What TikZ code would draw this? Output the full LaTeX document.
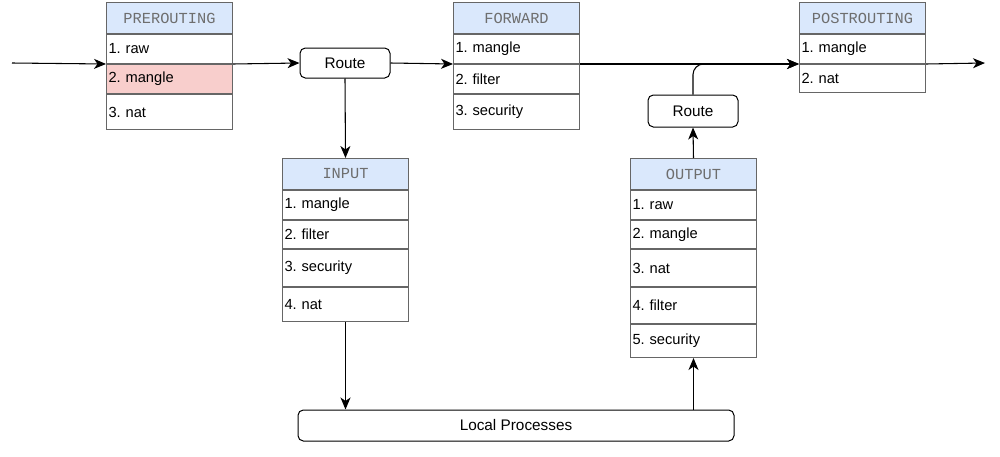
\documentclass[tikz,border=0pt]{standalone}
\usepackage{fontspec}
\setmainfont{Liberation Sans}
\setmonofont{Liberation Mono}
\usetikzlibrary{arrows.meta,calc}
\definecolor{hookblue}{HTML}{DAE8FC}
\definecolor{hookred}{HTML}{F8CECC}
\definecolor{hookline}{HTML}{666666}
\definecolor{hooktext}{HTML}{6E6E6E}
\newcommand{\chaintable}[4]{%
  \node[hdr, anchor=north west] (#1-0) at (#2) {#3};
  \foreach \txt/\h/\bg [count=\i, remember=\i as \j (initially 0)] in {#4}{
    \node[cell, fill=\bg, minimum height=\h*0.75pt, anchor=north west] (#1-\i) at (#1-\j.south west) {\txt};
  }%
}
\frenchspacing

\begin{document}
\begin{tikzpicture}[
  x=0.75pt,y=-0.75pt,
  font=\fontsize{11}{13}\selectfont,
  flow/.style={-{Stealth[length=9pt,width=7.5pt,inset=2.6pt]}, line width=.8pt, draw=black},
  hdr/.style={draw=hookline, fill=hookblue, line width=.75pt, minimum width=94.5pt, minimum height=23.25pt, inner sep=0pt, font=\ttfamily\fontsize{11.5}{13}\selectfont, text=hooktext},
  cell/.style={draw=hookline, line width=.75pt, align=left, text width=91.5pt, inner xsep=1.5pt, inner ysep=0pt},
  route/.style={draw=black, fill=white, rounded corners=4pt, line width=.75pt, minimum width=67.5pt, minimum height=22.5pt, inner sep=0pt, font=\fontsize{11.5}{13}\selectfont},
]
\useasboundingbox (0,0) rectangle (1000,457);

\chaintable{pre}{106,2}{PREROUTING}{{1. raw}/29/white,{2. mangle}/29/hookred,{3. nat}/35/white}
\chaintable{fwd}{453,2}{FORWARD}{{1. mangle}/29/white,{2. filter}/29/white,{3. security}/35/white}
\chaintable{post}{799,2}{POSTROUTING}{{1. mangle}/29/white,{2. nat}/28/white}
\chaintable{inp}{282,158}{INPUT}{{1. mangle}/29/white,{2. filter}/28/white,{3. security}/37/white,{4. nat}/34/white}
\chaintable{out}{630,158}{OUTPUT}{{1. raw}/29/white,{2. mangle}/28/white,{3. nat}/37/white,{4. filter}/36/white,{5. security}/33/white}

\node[route] (r1) at (345,63) {Route};
\node[route, minimum height=24pt] (r2) at (693,111) {Route};
\node[route, minimum width=327pt, minimum height=23.25pt] (lp) at (516,425.5) {Local Processes};

\coordinate (src) at (12,63);
\coordinate (dst) at (985,63);

\draw[flow] (src) -- (pre-1.south west);
\draw[flow] (pre-1.south east) -- (r1.west);
\draw[flow] (r1.east) -- (fwd-1.south west);
\draw[flow] (fwd-1.south east) -- (post-1.south west);
\draw[flow, rounded corners=8pt] (r2.north) |- (post-1.south west);
\draw[flow] (post-1.south east) -- (dst);
\draw[flow] (r1.south) -- (inp-0.north);
\draw[flow] (inp-4.south) -- (inp-4.south |- lp.north);
\draw[flow] (out-5.south |- lp.north) -- (out-5.south);
\draw[flow] (out-0.north) -- (r2.south);
\end{tikzpicture}
\end{document}
